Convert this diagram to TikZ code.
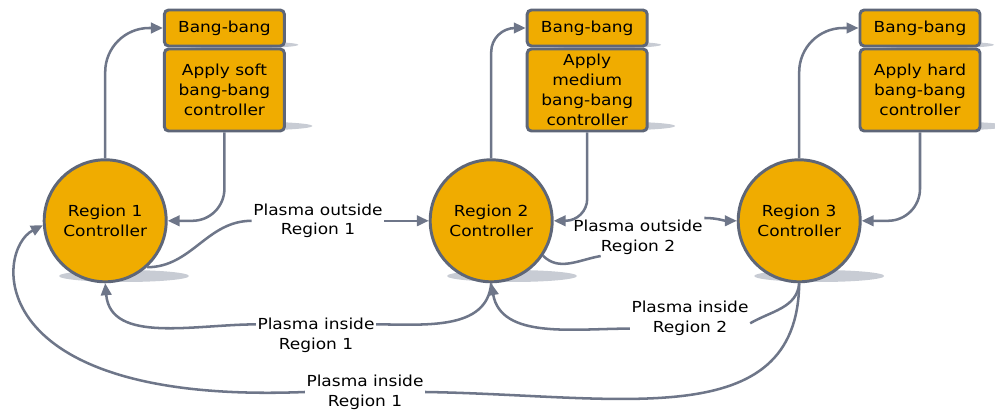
\documentclass[tikz,border=0pt]{standalone}
\usepackage{fontspec}
\setmainfont{DejaVu Sans}[FakeStretch=1.12]
\usepackage{tikz}
\usetikzlibrary{arrows.meta}
\definecolor{ctrlfill}{HTML}{F0AC00}
\definecolor{rim}{HTML}{5E6678}
\definecolor{wire}{HTML}{6E7689}
\definecolor{floorgray}{HTML}{C8CCD4}
\tikzstyle{ctrl} = [circle, draw=rim, line width=2.1pt, fill=ctrlfill,
    minimum size=3.05cm, align=center, inner sep=0pt]
\tikzstyle{box} = [rectangle, draw=rim, line width=2.1pt, fill=ctrlfill,
    rounded corners=3pt, minimum width=3cm, align=center, inner sep=1pt]
\tikzstyle{lbl} = [align=center, inner sep=1pt]
\tikzstyle{link} = [draw=wire, line width=1.8pt]
\tikzstyle{floor} = [fill=floorgray]

\begin{document}
\begin{tikzpicture}[font=\fontsize{10.8}{14.2}\selectfont, >={Triangle[length=8.5pt,width=7.5pt]}]
	\useasboundingbox (0,0) rectangle (24.875,10.3);

	% Shadows
	\fill[floor] (3.1,3.4) ellipse (1.625 and 0.15);
	\fill[floor] (12.8,3.4) ellipse (1.625 and 0.15);
	\fill[floor] (20.48,3.4) ellipse (1.625 and 0.15);
	\fill[floor] (5.91,9.18) ellipse (1.55 and 0.09);
	\fill[floor] (6.26,7.15) ellipse (1.55 and 0.11);
	\fill[floor] (14.98,9.18) ellipse (1.55 and 0.09);
	\fill[floor] (15.33,7.15) ellipse (1.55 and 0.11);
	\fill[floor] (23.3,9.18) ellipse (1.55 and 0.09);
	\fill[floor] (23.65,7.15) ellipse (1.55 and 0.11);

	% Place nodes
	\node [ctrl] at (2.63,4.78) (reg1) {Region 1\\Controller};
	\node [ctrl] at (12.28,4.78) (reg2) {Region 2\\Controller};
	\node [ctrl] at (19.98,4.78) (reg3) {Region 3\\Controller};

	\node [box, minimum height=0.9cm] at (5.61,9.6) (bang1) {Bang-bang};
	\node [box, minimum height=2.05cm] at (5.61,8.05) (apply1) {Apply soft\\bang-bang\\controller};
	\node [box, minimum height=0.9cm] at (14.68,9.6) (bang2) {Bang-bang};
	\node [box, minimum height=2.05cm] at (14.68,8.05) (apply2) {Apply\\medium\\bang-bang\\controller};
	\node [box, minimum height=0.9cm] at (23.0,9.6) (bang3) {Bang-bang};
	\node [box, minimum height=2.05cm] at (23.0,8.05) (apply3) {Apply hard\\bang-bang\\controller};

	\node [lbl] at (7.95,4.78) (out1) {Plasma outside\\Region 1};
	\node [lbl] at (15.95,4.375) (out2) {Plasma outside\\Region 2};
	\node [lbl] at (7.9,1.925) (in1) {Plasma inside\\Region 1};
	\node [lbl] at (17.25,2.35) (in2) {Plasma inside\\Region 2};
	\node [lbl] at (9.125,0.5) (in3) {Plasma inside\\Region 1};

	% Bang-bang loops
	\draw[->, link, rounded corners=1.1cm](reg1.north) |- (bang1.west);
	\draw[->, link, rounded corners=0.8cm](apply1.south) |- (reg1.east);
	\draw[->, link, rounded corners=0.6cm](reg2.north) |- (bang2.west);
	\draw[->, link, rounded corners=0.55cm](apply2.south) |- (reg2.east);
	\draw[->, link, rounded corners=1.1cm](reg3.north) |- (bang3.west);
	\draw[->, link, rounded corners=0.8cm](apply3.south) |- (reg3.east);

	% Plasma outside
	\draw[link](reg1.-48) to[out=0, in=180] (out1.west);
	\draw[->, link](out1.east) -- (reg2.west);
	\draw[link](reg2.-34) to[out=-45, in=190] (out2.207);
	\draw[->, link](out2.north east) to[out=0, in=180] (reg3.west);

	% Plasma inside
	\draw[link](reg2.south) to[out=-95, in=0] (in1.10);
	\draw[->, link](in1.170) to[out=180, in=-85] (reg1.south);
	\draw[link](reg3.south) to[out=-95, in=30] (in2.-5);
	\draw[->, link](in2.190) to[out=180, in=-80] (reg2.south);
	\draw[link](reg3.south) .. controls (19.93,-0.575) and (15.5,0.425) .. (in3.east);
	\draw[->, link](in3.west) .. controls (-0.5,0.175) and (-0.125,4.05) .. (reg1.184);
\end{tikzpicture}
\end{document}
